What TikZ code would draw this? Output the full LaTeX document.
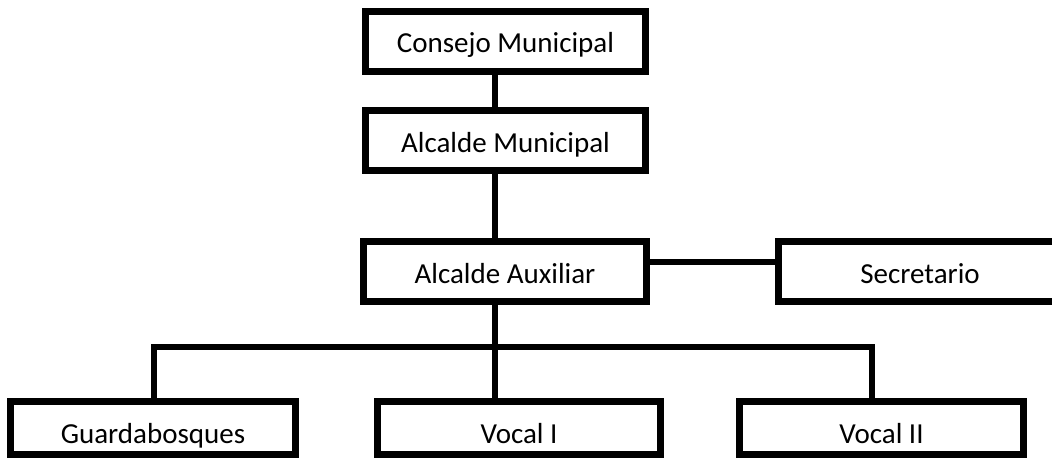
\documentclass[tikz,border=0pt]{standalone}
\usepackage{fontspec}
\setmainfont{Carlito}
\usetikzlibrary{calc}
\tikzset{orgbox/.style = {draw, line width=7pt, rectangle, inner sep=0pt,
                          minimum height=60pt, text height=27pt, text depth=4pt,
                          font=\fontsize{29}{34}\selectfont},
         leafbox/.style = {orgbox, minimum height=53pt, text height=31pt, text depth=1pt},
         orgline/.style = {line width=5.5pt}}

\begin{document}
\begin{tikzpicture}[x=1pt, y=-1pt]
    \useasboundingbox (0,0) rectangle (1052,460);
    \clip (0,0) rectangle (1052,460);

    \node[orgbox, minimum width=280pt] (n-consejo)   at (505.5,41.5)  {Consejo Municipal};
    \node[orgbox, minimum width=280pt] (n-municipal) at (505.5,140.5) {Alcalde Municipal};
    \node[orgbox, minimum width=283pt] (n-auxiliar)  at (505,271.5)   {Alcalde Auxiliar};
    \node[orgbox, minimum width=283pt] (n-secretario) at (920,271.5)  {Secretario};

    \node[leafbox, minimum width=285pt] (n-guarda)  at (153,428)   {Guardabosques};
    \node[leafbox, minimum width=283pt] (n-vocal-1) at (519,428)   {Vocal I};
    \node[leafbox, minimum width=284pt] (n-vocal-2) at (881.5,428) {Vocal II};

    \coordinate (spine) at (495,0);
    \coordinate (bus-l) at (154,347);
    \coordinate (bus-r) at (872,347);

    \draw[orgline] (n-consejo.south -| spine) -- (n-municipal.north -| spine);
    \draw[orgline] (n-municipal.south -| spine) -- (n-auxiliar.north -| spine);
    \draw[orgline] ([yshift=9.5pt]n-auxiliar.east) -- ([yshift=9.5pt]n-secretario.west);
    \draw[orgline] (n-auxiliar.south -| spine) -- (n-vocal-1.north -| spine);
    \draw[orgline] (n-guarda.north -| bus-l) -- (bus-l) -- (bus-r) -- (n-vocal-2.north -| bus-r);
\end{tikzpicture}
\end{document}
